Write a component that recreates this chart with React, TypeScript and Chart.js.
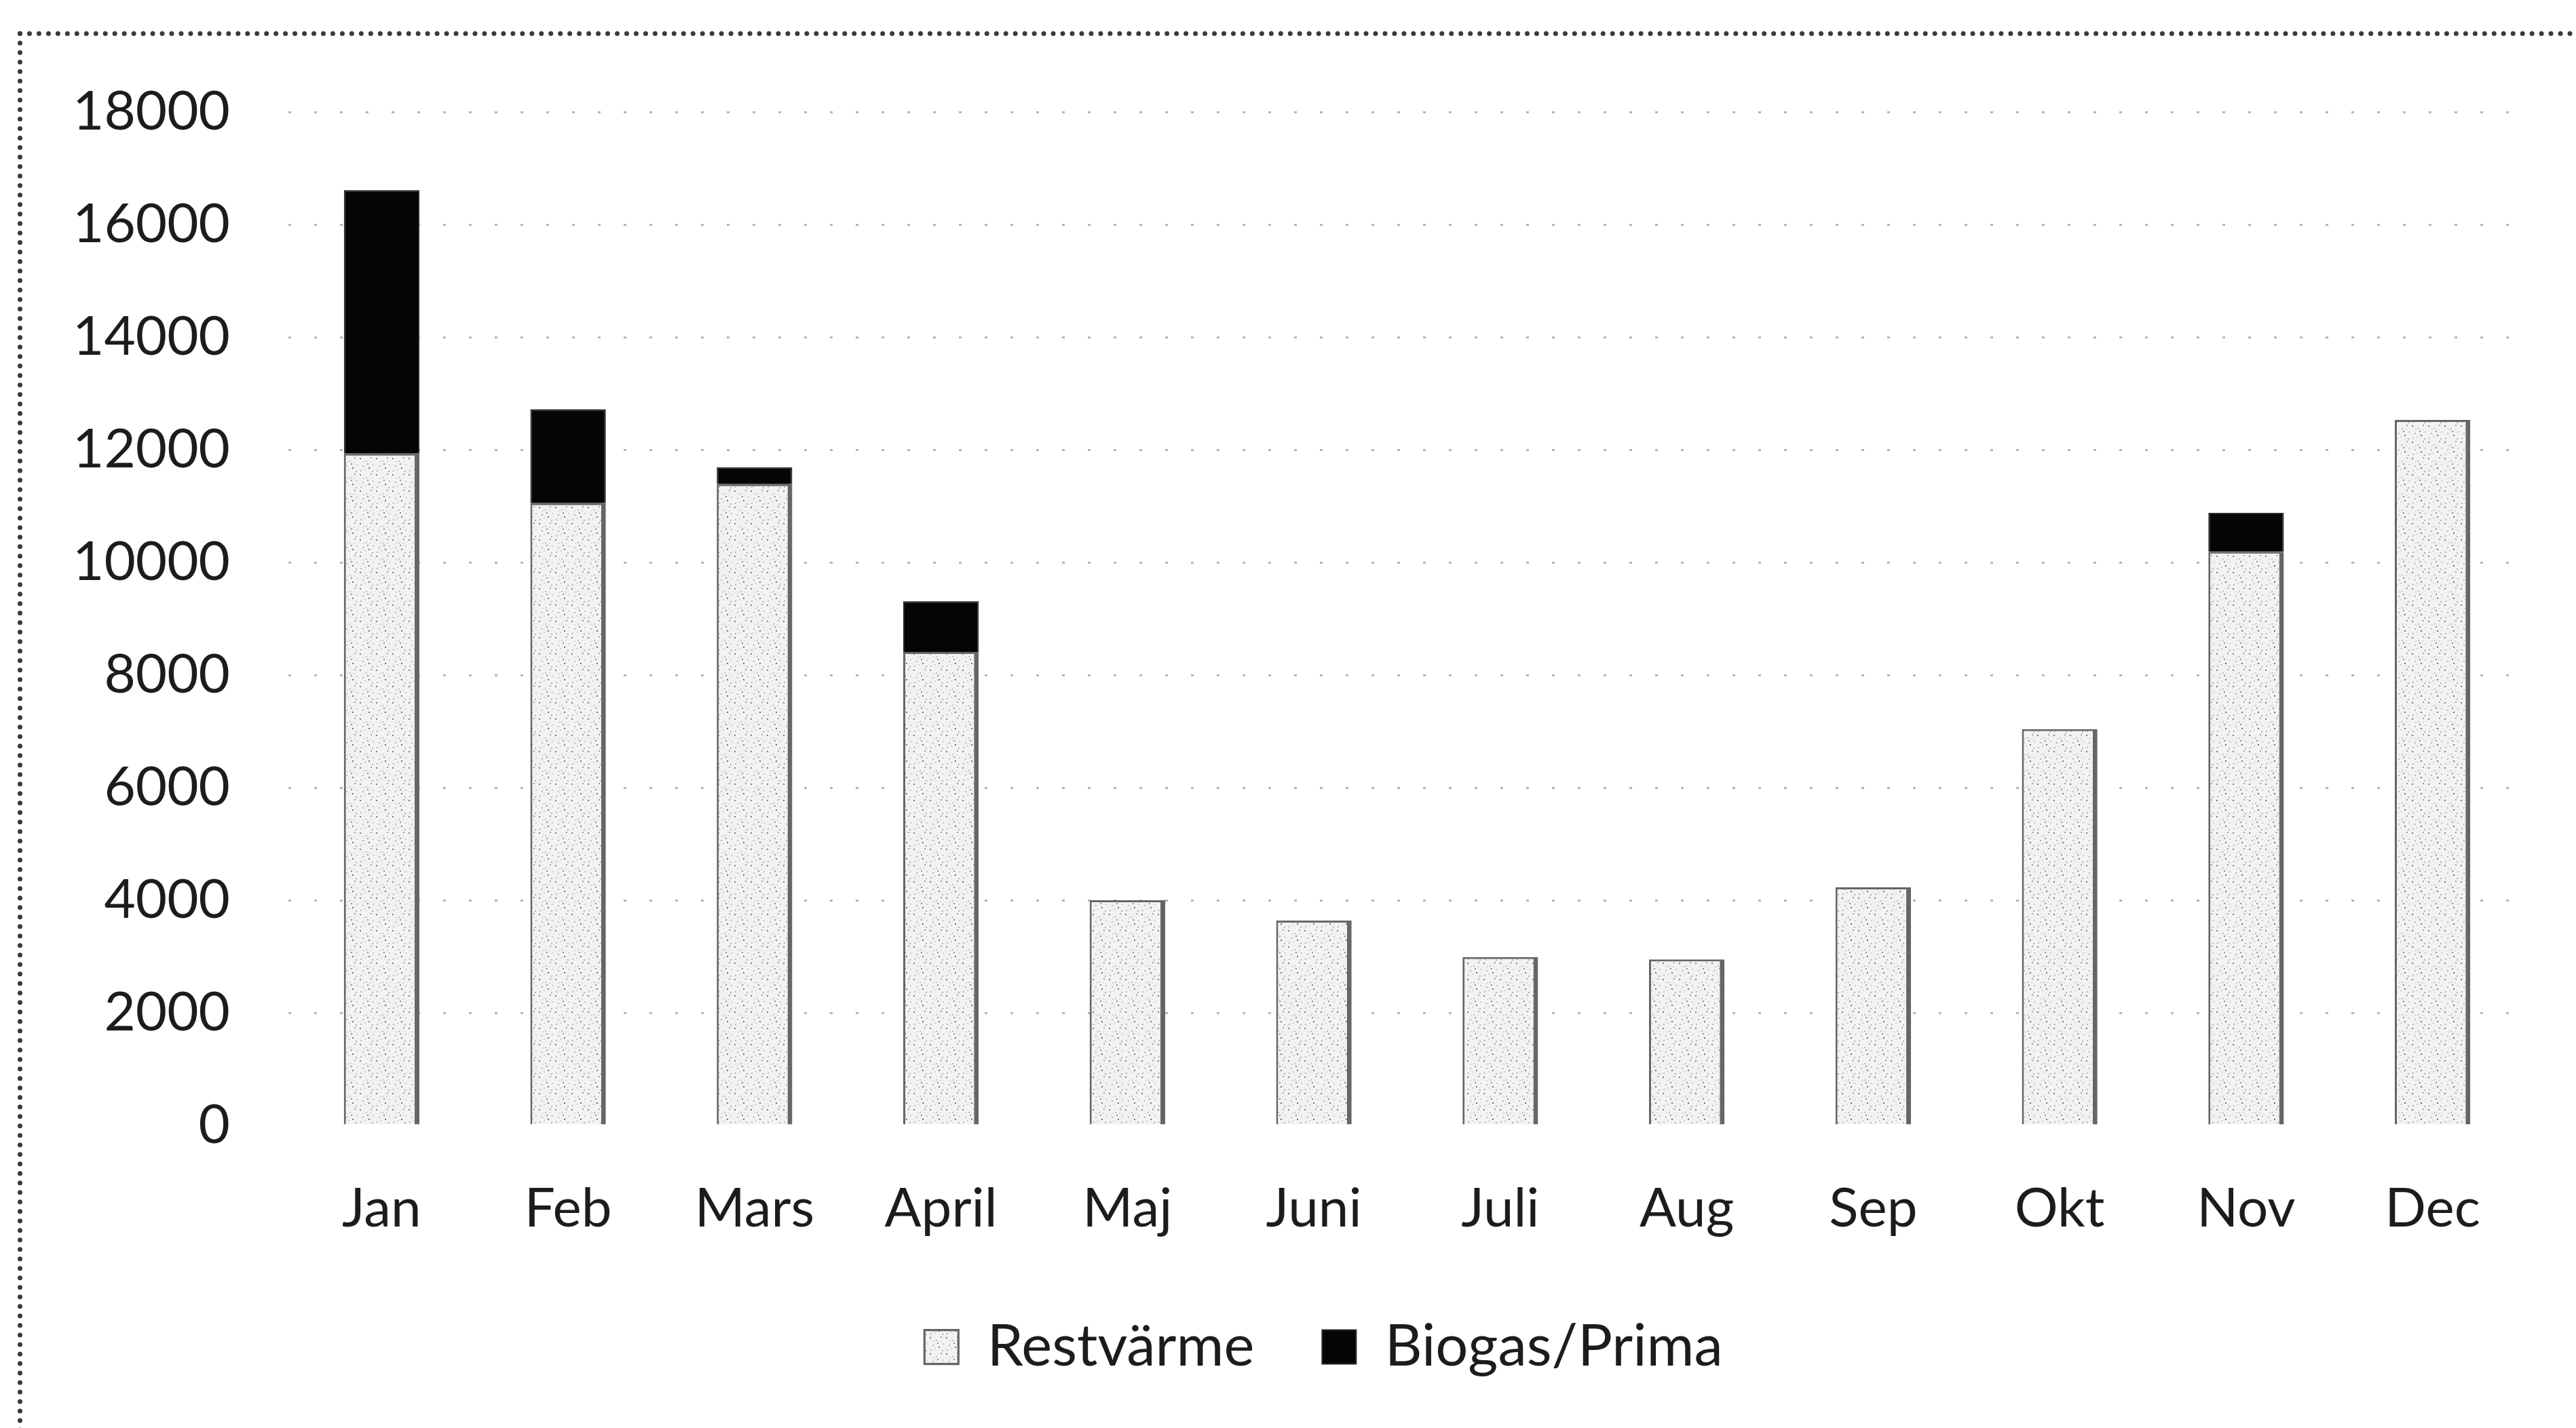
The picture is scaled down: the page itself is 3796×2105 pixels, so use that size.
import React, { useEffect, useRef } from 'react';
import { Chart, registerables } from 'chart.js';

Chart.register(...registerables);

const categories = ['Jan', 'Feb', 'Mars', 'April', 'Maj', 'Juni', 'Juli', 'Aug', 'Sep', 'Okt', 'Nov', 'Dec'];
const restvarme = [11930, 11050, 11390, 8410, 4000, 3640, 2990, 2950, 4230, 7040, 10190, 12530];
const biogas = [4680, 1670, 300, 900, 0, 0, 0, 0, 0, 0, 690, 0];
const seriesNames = ['Restvärme', 'Biogas/Prima'];
const yMin = 0;
const yMax = 18000;
const yStep = 2000;

function makeStipple(): CanvasPattern | string {
  const c = document.createElement('canvas');
  c.width = 24;
  c.height = 24;
  const g = c.getContext('2d');
  if (!g) return '#eeeeee';
  g.fillStyle = '#f2f2f2';
  g.fillRect(0, 0, 24, 24);
  const dots: [number, number, string][] = [
    [2, 3, '#7a7a7a'], [11, 7, '#c0c0c0'], [18, 2, '#a0a0a0'], [6, 14, '#b5b5b5'],
    [15, 17, '#707070'], [21, 12, '#c8c8c8'], [3, 21, '#b8b8b8'], [9, 19, '#d0d0d0'],
    [13, 11, '#909090'], [20, 22, '#b0b0b0'], [7, 8, '#d6d6d6'], [17, 8, '#dcdcdc'],
  ];
  dots.forEach(([x, y, col]) => {
    g.fillStyle = col;
    g.fillRect(x, y, 2, 2);
  });
  return g.createPattern(c, 'repeat') || '#eeeeee';
}

export default function App() {
  const ref = useRef<HTMLCanvasElement | null>(null);

  useEffect(() => {
    if (!ref.current) return;
    const stipple = makeStipple();
    const font = { family: 'Lato', size: 80 };
    const chart = new Chart(ref.current, {
      type: 'bar',
      data: {
        labels: categories,
        datasets: [
          {
            label: seriesNames[0],
            data: restvarme,
            backgroundColor: stipple as any,
            borderColor: '#666666',
            borderWidth: { left: 3, right: 7, top: 3, bottom: 0 } as any,
            barPercentage: 1,
            categoryPercentage: 0.405,
          },
          {
            label: seriesNames[1],
            data: biogas,
            backgroundColor: '#050505',
            borderColor: '#2a2a2a',
            borderWidth: 2,
            barPercentage: 1,
            categoryPercentage: 0.405,
          },
        ],
      },
      options: {
        animation: false,
        responsive: false,
        layout: { padding: { left: 105, right: 0, top: 165, bottom: 67 } },
        plugins: {
          legend: {
            position: 'bottom',
            labels: {
              font: { family: 'Lato', size: 85 },
              color: '#1c1c1c',
              boxWidth: 50,
              boxHeight: 50,
              padding: 100,
            },
          },
          tooltip: { enabled: false },
        },
        scales: {
          x: {
            stacked: true,
            grid: { display: false, drawTicks: false },
            border: { display: false },
            ticks: { font, color: '#1c1c1c', padding: 75 },
            afterFit: (s: any) => { s.height = 184; },
          },
          y: {
            stacked: true,
            min: yMin,
            max: yMax,
            ticks: {
              stepSize: yStep,
              font,
              color: '#1c1c1c',
              padding: 86,
              callback: (v: any) => String(v),
            },
            grid: {
              drawTicks: false,
              lineWidth: 3,
              color: (ctx: any) => (ctx.tick && ctx.tick.value === 0 ? 'rgba(0,0,0,0)' : 'rgba(90,90,90,0.45)'),
            },
            border: { display: false, dash: [4, 34] },
            afterFit: (s: any) => { s.width = 320; },
          },
          yRight: {
            type: 'linear',
            position: 'right',
            display: true,
            grid: { display: false, drawTicks: false },
            border: { display: false },
            ticks: { display: false },
            afterFit: (s: any) => { s.width = 74; },
          },
        },
      },
    });
    return () => chart.destroy();
  }, []);

  return (
    <div style={{ position: 'fixed', left: 0, top: 0, width: 3796, height: 2105, background: '#ffffff', overflow: 'hidden' }}>
      <canvas ref={ref} width={3796} height={2105} style={{ display: 'block', position: 'absolute', left: 0, top: 0 }} />
      <div
        style={{
          position: 'absolute',
          left: 26,
          top: 46,
          width: 3900,
          height: 2200,
          borderLeft: '7px dotted #3a3a3a',
          borderTop: '7px dotted #3a3a3a',
          pointerEvents: 'none',
        }}
      />
    </div>
  );
}
